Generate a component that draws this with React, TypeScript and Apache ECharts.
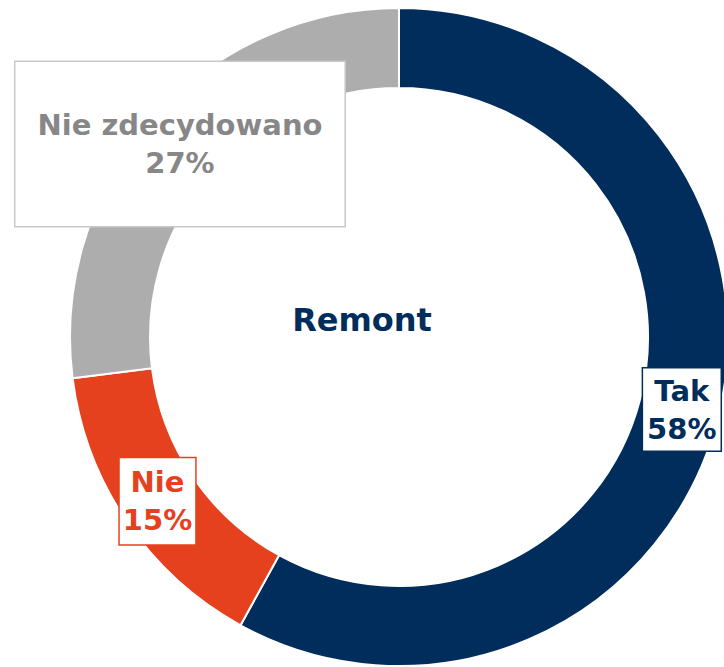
import React, { useEffect, useRef } from "react";
import * as echarts from "echarts";

const categories = ["Tak", "Nie", "Nie zdecydowano"];
const values = [58, 15, 27];
const colors = ["#002D5C", "#E6411E", "#ADADAD"];
const labelColors = ["#002D5C", "#E6411E", "#878787"];
const labelBorders = ["#002D5C", "#E6411E", "#C8C8C8"];
const labelPaddings = [[3, 4], [5, 3], [45, 22, 43, 22]];
const centerTitle = "Remont";

export default function App() {
  const ref = useRef<HTMLDivElement>(null);
  useEffect(() => {
    if (!ref.current) return;
    const chart = echarts.init(ref.current, null, { renderer: "svg" });
    const font = "DejaVu Sans";
    chart.setOption({
      animation: false,
      backgroundColor: "#ffffff",
      title: {
        text: centerTitle,
        left: "center",
        top: 299,
        textStyle: { color: "#002D5C", fontSize: 32, fontWeight: "bold", fontFamily: font },
      },
      series: [
        {
          type: "pie",
          center: [399, 337],
          radius: [249, 329],
          startAngle: 90,
          clockwise: true,
          avoidLabelOverlap: false,
          itemStyle: { borderColor: "#ffffff", borderWidth: 2 },
          label: {
            show: true,
            position: "inside",
            formatter: "{b}\n{c}%",
            fontFamily: font,
            fontWeight: "bold",
            fontSize: 29,
            lineHeight: 38,
            backgroundColor: "#ffffff",
            borderWidth: 1.5,
          },
          labelLine: { show: false },
          emphasis: { disabled: true },
          data: categories.map((name, i) => ({
            name,
            value: values[i],
            itemStyle: { color: colors[i] },
            label: {
              color: labelColors[i],
              borderColor: labelBorders[i],
              padding: labelPaddings[i],
            },
          })),
        },
      ],
    });
    return () => chart.dispose();
  }, []);
  return (
    <div
      ref={ref}
      style={{ position: "fixed", left: 0, top: 0, width: 724, height: 667 }}
    />
  );
}
